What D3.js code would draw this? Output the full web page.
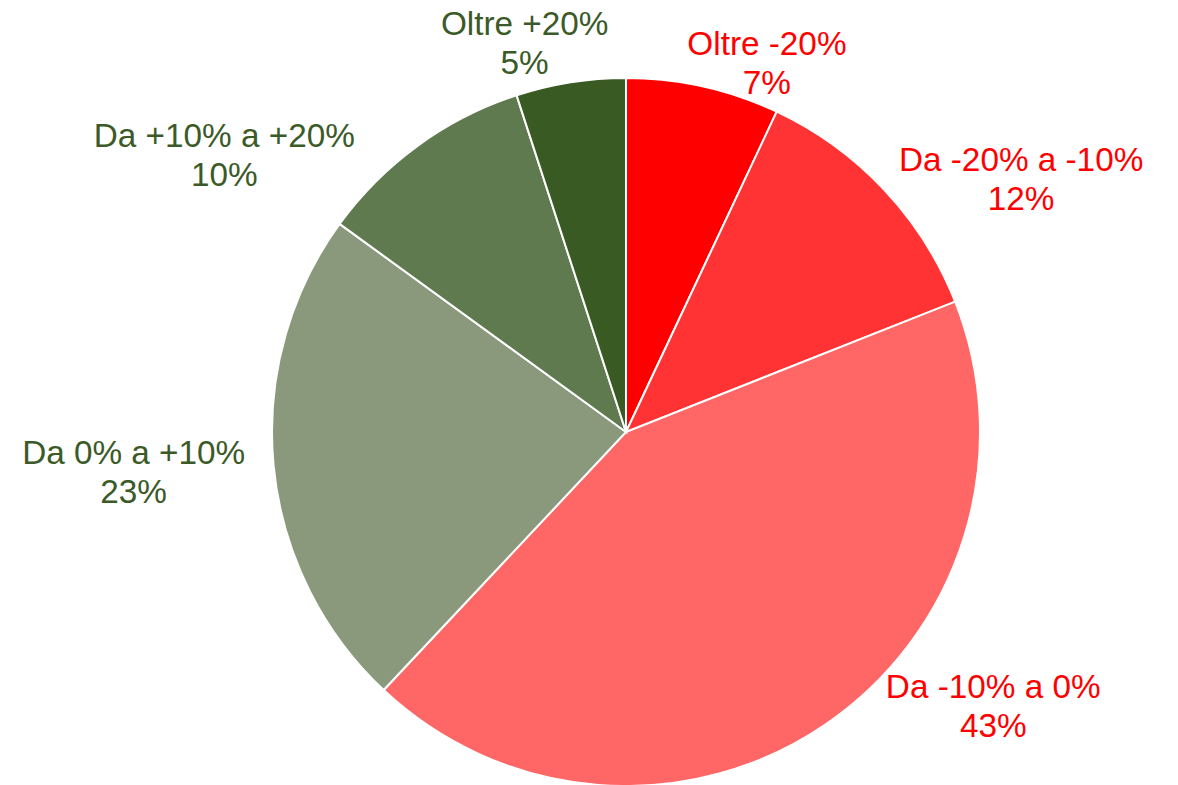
<!DOCTYPE html>
<html>
<head>
<meta charset="utf-8">
<script src="https://cdn.jsdelivr.net/npm/d3@7"></script>
<style>
  body { margin: 0; background: #fff; }
  svg { display: block; font-family: "Liberation Sans", Arial, sans-serif; }
</style>
</head>
<body>
<script>
// data, clockwise from 12 o'clock
const categories = ['Oltre -20%', 'Da -20% a -10%', 'Da -10% a 0%', 'Da 0% a +10%', 'Da +10% a +20%', 'Oltre +20%'];
const shares = [7, 12, 43, 23, 10, 5];

const sliceColors = ['#ff0000', '#ff3333', '#ff6666', '#8a997b', '#607a50', '#3a5a24'];
const textColors = ['#ff0000', '#ff0000', '#ff0000', '#3b5a27', '#3b5a27', '#3b5a27'];
// label placement: angle shift (deg) from slice middle, distance from centre
const labelLayout = [[8.3, 395], [10.6, 469], [-19.1, 458], [0.7, 494], [-19.4, 488], [-5.6, 402]];

const width = 1178, height = 785;
const cx = 626, cy = 432, radius = 354;

const svg = d3.select('body').append('svg')
    .attr('width', width)
    .attr('height', height);

const g = svg.append('g')
    .attr('transform', `translate(${cx}, ${cy})`);

const rows = categories.map((c, i) => ({ name: c, value: shares[i], i: i }));

const pie = d3.pie()
    .value(d => d.value)
    .sort(null);

const arc = d3.arc()
    .innerRadius(0)
    .outerRadius(radius);

const arcs = pie(rows);

g.selectAll('path')
    .data(arcs)
    .enter()
    .append('path')
    .attr('d', arc)
    .attr('fill', d => sliceColors[d.data.i])
    .attr('stroke', '#fff')
    .attr('stroke-width', 2);

const labels = g.selectAll('text')
    .data(arcs)
    .enter()
    .append('text')
    .attr('text-anchor', 'middle')
    .attr('font-size', '33.3px')
    .attr('fill', d => textColors[d.data.i])
    .attr('transform', d => {
        const lay = labelLayout[d.data.i];
        const a = (d.startAngle + d.endAngle) / 2 + lay[0] * Math.PI / 180;
        const la = d3.arc().innerRadius(lay[1]).outerRadius(lay[1]);
        const p = la.centroid({ startAngle: a, endAngle: a });
        return `translate(${p[0]}, ${p[1]})`;
    });

labels.append('tspan')
    .attr('x', 0)
    .attr('y', -8)
    .text(d => d.data.name);

labels.append('tspan')
    .attr('x', 0)
    .attr('y', 31)
    .text(d => d.data.value + '%');
</script>
</body>
</html>
